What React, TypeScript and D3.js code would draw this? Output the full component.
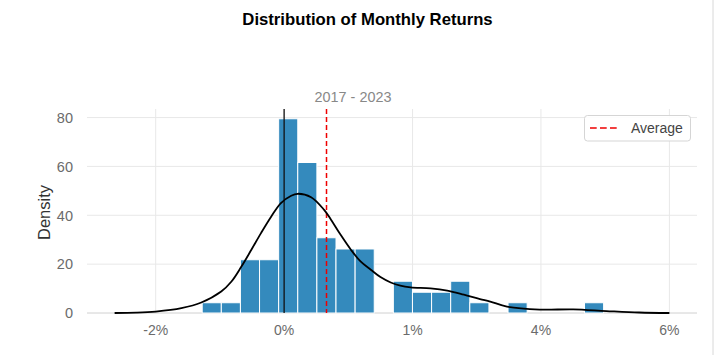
import React from "react";
import * as d3 from "d3";

// Histogram bins (percent units) and densities
const binStart = -1.276;
const binWidth = 0.2977;
const binDensities = [4.2, 4.2, 21.8, 21.8, 79.5, 61.6, 30.8, 26.2, 26.2, 0, 13.0, 8.5, 8.5, 13.0, 4.2, 0, 4.2, 0, 0, 0, 4.2];

// KDE curve points: x (%), density
const kdeX = [-2.64, -2.3, -2.0, -1.6, -1.29, -0.98, -0.82, -0.67, -0.51, -0.36, -0.2, -0.05, 0.11, 0.21, 0.42, 0.62, 0.73, 0.88, 1.04, 1.19, 1.35, 1.5, 1.66, 1.81, 1.97, 2.28, 2.54, 2.8, 3.05, 3.21, 3.47, 3.98, 4.5, 5.02, 5.53, 6.0];
const kdeY = [0, 0.15, 0.6, 2.0, 4.3, 8.8, 12.9, 18.8, 25.9, 32.7, 39.5, 45, 48, 48.8, 47.4, 42.3, 38.2, 32, 25.9, 21.1, 17.7, 14.7, 12.5, 11.2, 10.5, 10.1, 9.2, 7.5, 5.7, 4.7, 2.6, 1.4, 1.5, 0.8, 0.2, 0];

const averageValue = 0.66;
const xTicks = [-2, 0, 2, 4, 6];
const xTickLabels = ["-2%", "0%", "1%", "4%", "6%"];
const yTicks = [0, 20, 40, 60, 80];

const W = 720, H = 355;
const left = 87, right = 697, top = 109, bottom = 313;

export default function App() {
  const x = d3.scaleLinear().domain([-3.07, 6.43]).range([left, right]);
  const y = d3.scaleLinear().domain([0, 83.5]).range([bottom, top]);
  const line = d3.line<number>().x((_, i) => x(kdeX[i])).y((d) => y(d)).curve(d3.curveCatmullRom.alpha(0.5));
  const font = "'Liberation Sans', Arial, sans-serif";
  return (
    <svg width={W} height={H} style={{ position: "absolute", left: 0, top: 0, background: "#fff" }} fontFamily={font}>
      <rect x={0} y={0} width={W} height={H} fill="#fff" />
      <line x1={713} x2={713} y1={0} y2={H} stroke="#d8d8d8" strokeWidth={1} />
      <text x={367.5} y={25} textAnchor="middle" fontSize={16.7} fontWeight="bold" fill="#000">Distribution of Monthly Returns</text>
      <text x={353} y={102} textAnchor="middle" fontSize={14.4} fill="#888">2017 - 2023</text>
      {yTicks.map((t) => (
        <g key={"y" + t}>
          <line x1={left} x2={right} y1={y(t)} y2={y(t)} stroke="#e8e8e8" strokeWidth={1} />
          <text x={73} y={y(t) + 5.3} textAnchor="end" fontSize={14.5} fill="#6b6b6b">{t}</text>
        </g>
      ))}
      {xTicks.map((t, i) => (
        <g key={"x" + t}>
          <line x1={x(t)} x2={x(t)} y1={top} y2={bottom} stroke="#e8e8e8" strokeWidth={1} />
          <text x={x(t)} y={335} textAnchor="middle" fontSize={14} fill="#6b6b6b">{xTickLabels[i]}</text>
        </g>
      ))}
      <line x1={left} x2={right} y1={bottom} y2={bottom} stroke="#dcdcdc" strokeWidth={1.2} />
      <text transform={`translate(49.5,${(top + bottom) / 2 + 1.5}) rotate(-90)`} textAnchor="middle" fontSize={16.5} fill="#333">Density</text>
      {binDensities.map((d, i) =>
        d > 0 ? (
          <rect key={"b" + i} x={x(binStart + i * binWidth)} y={y(d)} width={x(binStart + (i + 1) * binWidth) - x(binStart + i * binWidth)} height={bottom - y(d)} fill="#348ABD" stroke="#fff" strokeWidth={1} />
        ) : null
      )}
      <line x1={x(0)} x2={x(0)} y1={top} y2={bottom} stroke="#111" strokeWidth={1.3} />
      <line x1={x(averageValue)} x2={x(averageValue)} y1={top} y2={bottom} stroke="#e00" strokeWidth={1.5} strokeDasharray="5,3" />
      <path d={line(kdeY) || ""} fill="none" stroke="#000" strokeWidth={1.8} />
      <rect x={584.5} y={115.5} width={106} height={25.5} rx={3} fill="#fff" fillOpacity={0.9} stroke="#d5d5d5" />
      <line x1={590} x2={617} y1={128} y2={128} stroke="#e00" strokeWidth={1.5} strokeDasharray="6.7,3.3" />
      <text x={631} y={133} fontSize={14} fill="#444">Average</text>
    </svg>
  );
}
